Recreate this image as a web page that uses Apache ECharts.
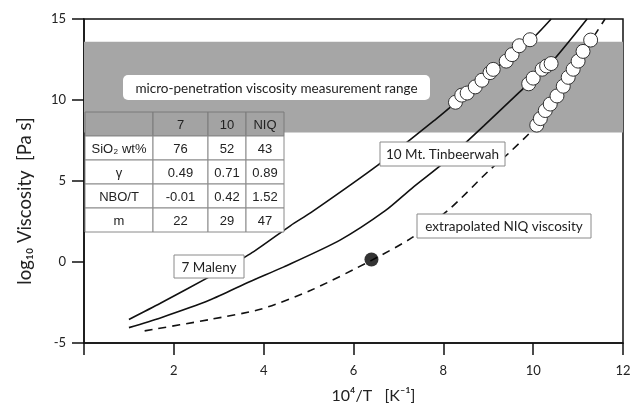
<!DOCTYPE html>
<html>
<head>
<meta charset="utf-8">
<script src="https://cdn.jsdelivr.net/npm/echarts@6/dist/echarts.min.js"></script>
<style>
  html, body { margin: 0; padding: 0; background: #fff; }
  #chart { width: 638px; height: 409px; }
</style>
</head>
<body>
<div id="chart"></div>
<script>
// curves: [10^4/T, log10 viscosity]
const maleny = [[1.0, -3.55], [1.7, -2.55], [2.8, -0.9], [3.7, 0.5], [4.6, 2.25], [5.05, 3.05], [6.55, 6.0], [7.85, 8.85], [8.3, 9.9], [9.05, 11.7], [9.95, 13.7], [10.4, 15.0]]
const tinbeerwah = [[1.0, -4.05], [1.7, -3.45], [2.8, -2.35], [3.7, -1.2], [4.45, -0.3], [5.7, 1.35], [6.7, 3.15], [7.3, 4.55], [8.0, 6.1], [8.9, 8.4], [9.7, 10.5], [10.0, 11.3], [10.4, 12.3], [11.2, 15.0]]
const niq = [[1.35, -4.25], [2.8, -3.55], [3.95, -2.9], [5.05, -1.75], [6.4, 0.1], [7.3, 1.5], [8.15, 3.3], [9.0, 5.6], [9.45, 6.7], [10.0, 8.2], [10.5, 10.1], [11.0, 12.3], [11.3, 13.7], [11.6, 15.0]]

// measured points (micro-penetration)
const malenyPts = [[8.27, 9.86], [8.41, 10.3], [8.53, 10.43], [8.71, 10.81], [8.86, 11.22], [9.04, 11.69], [9.11, 11.89], [9.4, 12.4], [9.53, 12.8], [9.69, 13.35], [9.93, 13.72]]
const tinbeerwahPts = [[9.9, 11.0], [10.0, 11.35], [10.2, 11.9], [10.3, 12.1], [10.4, 12.25]]
const niqPts = [[10.08, 8.45], [10.16, 8.85], [10.27, 9.35], [10.38, 9.75], [10.53, 10.25], [10.67, 10.85], [10.78, 11.4], [10.89, 11.9], [11.0, 12.4], [11.11, 13.0], [11.28, 13.7]]
const niqPoint = [[6.4, 0.15]]

const rangeBand = [8.0, 13.6]

// table
const tableCols = ['7', '10', 'NIQ']
const tableRows = ['SiO₂ wt%', 'γ', 'NBO/T', 'm']
const tableVals = [
  ['76', '52', '43'],
  ['0.49', '0.71', '0.89'],
  ['-0.01', '0.42', '1.52'],
  ['22', '29', '47']
]

const font = 'Lato, "Open Sans", sans-serif'
const tfont = '"Liberation Sans", Arial, sans-serif'

// table graphic
const colX = [85, 153, 208, 246, 284]
const rowY = [112, 136, 160, 184, 208, 232]
let tableEls = []
for (let r = 0; r < rowY.length - 1; r++) {
  for (let c = 0; c < colX.length - 1; c++) {
    let head = r === 0
    tableEls.push({
      type: 'rect', z: 100,
      shape: {x: colX[c], y: rowY[r], width: colX[c + 1] - colX[c], height: rowY[r + 1] - rowY[r]},
      style: {fill: head ? '#a3a3a3' : '#fff', stroke: head ? '#7a7a7a' : '#8a8a8a', lineWidth: 1}
    })
    let txt = ''
    if (head) txt = c === 0 ? '' : tableCols[c - 1]
    else txt = c === 0 ? tableRows[r - 1] : tableVals[r - 1][c - 1]
    if (txt) {
      tableEls.push({
        type: 'text', z: 101,
        style: {
          text: txt, x: (colX[c] + colX[c + 1]) / 2, y: (rowY[r] + rowY[r + 1]) / 2 + 1,
          align: 'center', verticalAlign: 'middle', font: '13px ' + tfont, fill: '#222'
        }
      })
    }
  }
}

const labelBox = (x, y, w, h, text, opt) => ({
  type: 'group',
  children: [
    {type: 'rect', z: 100, shape: {x: x, y: y, width: w, height: h, r: opt.r || 0},
      style: {fill: '#fff', stroke: opt.stroke || null, lineWidth: 1}},
    {type: 'text', z: 101, style: {text: text, x: x + w / 2, y: y + h / 2 + 1, align: 'center', verticalAlign: 'middle',
      font: '13.5px ' + font, fill: '#222'}}
  ]
})

let chart = echarts.init(document.getElementById('chart'))

let option = {
  animation: false,
  grid: {left: 84, right: 15, top: 19, bottom: 62, show: true, borderColor: '#111', borderWidth: 1.5},
  xAxis: {
    type: 'value', min: 0, max: 12, interval: 2,
    name: '10⁴/T   [K⁻¹]', nameLocation: 'middle', nameGap: 45,
    nameTextStyle: {fontSize: 16, fontFamily: font, color: '#222', padding: [0, 0, 0, 40]},
    axisLine: {onZero: false, lineStyle: {color: '#111', width: 1.5}},
    axisTick: {show: true, inside: false, length: 12, lineStyle: {color: '#111', width: 1.5}},
    axisLabel: {fontSize: 13, fontFamily: font, color: '#222', margin: 21,
      formatter: v => v === 0 ? '' : v},
    splitLine: {show: false}
  },
  yAxis: {
    type: 'value', min: -5, max: 15, interval: 5,
    name: 'log₁₀ Viscosity  [Pa s]', nameLocation: 'middle', nameGap: 49,
    nameTextStyle: {fontSize: 18.5, fontFamily: font, color: '#222', padding: [0, 40, 0, 0]},
    axisLine: {show: true, onZero: false, lineStyle: {color: '#111', width: 1.5}},
    axisTick: {show: true, inside: false, length: 12, lineStyle: {color: '#111', width: 1.5}},
    axisLabel: {fontSize: 13, fontFamily: font, color: '#222', margin: 18},
    splitLine: {show: false}
  },
  series: [
    {
      type: 'line', data: maleny, smooth: 0.25, symbol: 'none', z: 3,
      lineStyle: {color: '#111', width: 1.6},
      markArea: {
        silent: true,
        itemStyle: {color: '#a6a6a6', opacity: 1},
        data: [[{yAxis: rangeBand[0]}, {yAxis: rangeBand[1]}]],
        z: 1
      }
    },
    {type: 'line', data: tinbeerwah, smooth: 0.25, symbol: 'none', z: 3, lineStyle: {color: '#111', width: 1.6}},
    {type: 'line', data: niq, smooth: 0.25, symbol: 'none', z: 3, lineStyle: {color: '#111', width: 1.6, type: [8, 6]}},
    ...[malenyPts, tinbeerwahPts, niqPts].map(d => ({
      type: 'scatter', data: d, symbolSize: 14, z: 5,
      itemStyle: {color: '#fff', borderColor: '#333', borderWidth: 1, opacity: 1}
    })),
    {type: 'scatter', data: niqPoint, symbolSize: 14, z: 5, itemStyle: {color: '#000'}}
  ],
  graphic: [
    {type: 'group', children: tableEls},
    labelBox(123, 75, 307, 25, 'micro-penetration viscosity measurement range', {r: 5}),
    labelBox(380, 142, 125, 24, '10 Mt. Tinbeerwah', {stroke: '#8a8a8a'}),
    labelBox(417, 214, 174, 24, 'extrapolated NIQ viscosity', {stroke: '#8a8a8a'}),
    labelBox(174, 255, 70, 23, '7 Maleny', {stroke: '#8a8a8a'})
  ]
}
chart.setOption(option)
</script>
</body>
</html>
